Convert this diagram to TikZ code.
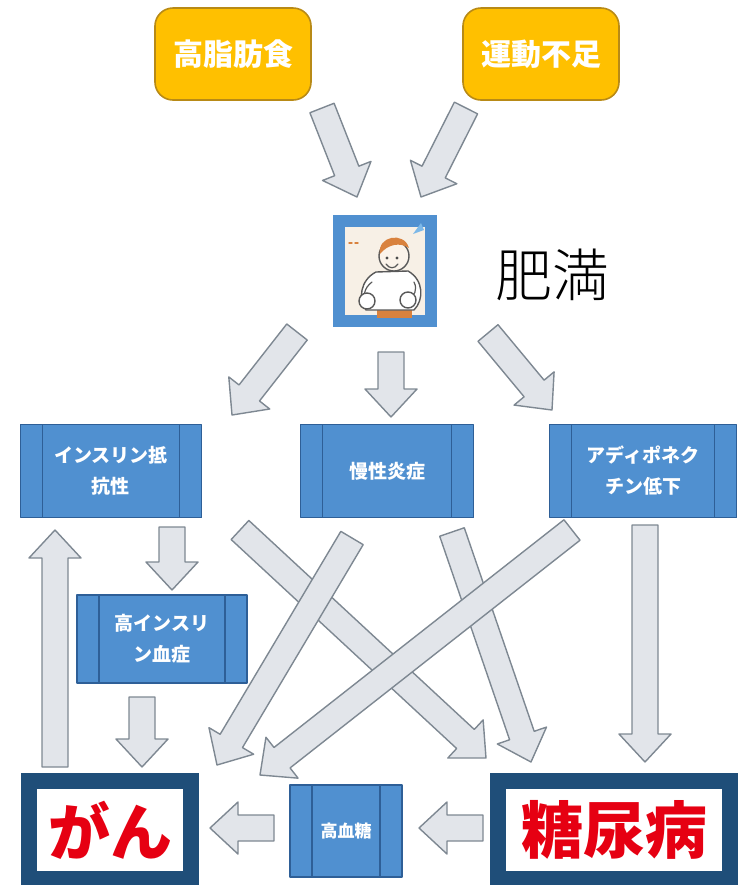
\documentclass[tikz,border=0pt]{standalone}
\usepackage{fontspec}
\newfontfamily\jp{Noto Sans CJK JP}
\newfontfamily\jplight{Noto Sans CJK JP}[UprightFont=* Light]
\usetikzlibrary{calc, positioning}

\definecolor{gold}{HTML}{FFC000}
\definecolor{goldline}{HTML}{B88A16}
\definecolor{procblue}{HTML}{5090D0}
\definecolor{procline}{HTML}{2E5F97}
\definecolor{navy}{HTML}{1F4E79}
\definecolor{arrfill}{HTML}{E2E5EA}
\definecolor{arrline}{HTML}{7E8892}
\definecolor{alarm}{HTML}{E60012}
\definecolor{cream}{HTML}{F7F0E6}
\definecolor{hair}{HTML}{D9823E}
\definecolor{skin}{HTML}{FBF3EA}
\definecolor{sweat}{HTML}{7CB8E8}

\begin{document}
\begin{tikzpicture}[x=0.5pt, y=-0.5pt, line join=round, line cap=round]
	\def\sw{6.5pt}  % half width of the shaft
	\def\hw{13pt}   % half width of the head
	\def\hl{14pt}   % length of the head
	
	\tikzset{
		cause/.style={rounded corners=9pt, draw=goldline, line width=0.8pt, fill=gold,
			minimum width=78pt, minimum height=46pt, text=white, font=\jp\bfseries\fontsize{15}{18}\selectfont},
		proc/.style={draw=procline, fill=procblue, line width=0.6pt, inner sep=0pt, align=center,
			text=white, font=\jp\bfseries\fontsize{9.5}{15.5}\selectfont,
			path picture={
				\draw[procline, line width=0.6pt]
				([xshift=11pt]path picture bounding box.north west) -- ([xshift=11pt]path picture bounding box.south west)
				([xshift=-11pt]path picture bounding box.north east) -- ([xshift=-11pt]path picture bounding box.south east);
		}},
		disease/.style={draw=navy, line width=8pt, line join=miter, fill=white, minimum height=49pt,
			text=alarm, font=\jp\bfseries\fontsize{31}{34}\selectfont},
		bigarr/.style={fill=arrfill, draw=arrline, line width=0.7pt}
	}
	
	\newcommand{\bigarrow}[2]{% tail, tip
		\coordinate (ah) at ($(#2)!\hl!(#1)$);
		\draw[bigarr] ($(#1)!\sw!90:(#2)$) -- ($(ah)!\sw!90:(#2)$) -- ($(ah)!\hw!90:(#2)$) -- (#2)
		-- ($(ah)!\hw!-90:(#2)$) -- ($(ah)!\sw!-90:(#2)$) -- ($(#1)!\sw!-90:(#2)$) -- cycle;
	}
	
	\useasboundingbox (0,0) rectangle (746,885);
	
	% causes
	\node[cause] (diet) at (233,54) {高脂肪食};
	\node[cause] (exercise) at (541,54) {運動不足};
	
	% obesity
	\node[draw=procblue, line width=6pt, line join=miter, fill=cream, minimum width=46pt, minimum height=50pt] (fat) at (385,271) {};
	\node[font=\jplight\fontsize{28.5}{30}\selectfont] (obesity) at (552,275) {肥満};
	
	\begin{scope}[draw=black!65]
		\fill[hair] (377,306) rectangle (412,318);
		\draw[line width=0.7pt, fill=white] (376,272) .. controls (360,280) and (358,300) .. (366,310) -- (414,310)
		.. controls (424,300) and (424,280) .. (408,271) -- cycle;
		\draw[line width=0.6pt] (372,282) .. controls (364,288) and (363,296) .. (366,300);
		\draw[line width=0.6pt] (414,282) .. controls (418,290) and (414,296) .. (409,299);
		\draw[line width=0.7pt, fill=skin] (394,256) circle (7.5pt);
		\fill[hair] (380,254) .. controls (377,236) and (404,231) .. (409,248) .. controls (400,242) and (388,244) .. cycle;
		\fill[black!70] (387,258) circle (0.8pt) (397,258) circle (0.8pt);
		\draw[line width=0.6pt] (386,264) .. controls (389,269) and (395,269) .. (398,264);
		\draw[line width=0.7pt, fill=white] (367,301) circle (4pt) (408,300) circle (4pt);
		\fill[sweat] (413,234) -- (421,223) -- (424,230) -- cycle;
		\draw[hair, line width=0.7pt] (349,243) -- (352,243) (355,243) -- (358,243);
	\end{scope}
	
	% what obesity brings
	\node[proc, minimum width=90.5pt, minimum height=46.5pt] (resist) at (111,471) {インスリン抵\\抗性};
	\node[proc, minimum width=86.5pt, minimum height=46.5pt] (inflam) at (387,471) {慢性炎症};
	\node[proc, minimum width=93.5pt, minimum height=46.5pt] (adipo) at (643,471) {アディポネク\\チン低下};
	\node[proc, minimum width=85pt, minimum height=44pt] (hyperins) at (162,639) {高インスリ\\ン血症};
	\node[proc, minimum width=56pt, minimum height=46pt, font=\jp\bfseries\fontsize{8.5}{10}\selectfont] (glucose) at (346,831) {高血糖};
	
	% diseases
	\node[disease, minimum width=81pt] (cancer) at (110,830) {がん};
	\node[disease, minimum width=116pt] (diabetes) at (614,830) {糖尿病};
	
	% arrow ends
	\coordinate (dietT) at (322,108);     \coordinate (dietH) at (357,197);
	\coordinate (exerT) at (466,108);     \coordinate (exerH) at (421,197);
	\coordinate (fatL) at (297,332);      \coordinate (resistH) at (232,415);
	\coordinate (fatM) at (391,352);      \coordinate (inflamH) at (391,417);
	\coordinate (fatR) at (488,333);      \coordinate (adipoH) at (552,410);
	\coordinate (resistT) at (172,527);   \coordinate (hyperinsH) at (172,590);
	\coordinate (hyperinsT) at (142,697); \coordinate (cancerH1) at (142,767);
	\coordinate (cancerT) at (55,767);    \coordinate (resistH2) at (55,530);
	\coordinate (adipoT) at (645,525);    \coordinate (diabetesH1) at (645,762);
	\coordinate (resistT2) at (240,530);  \coordinate (diabetesH2) at (486,758);
	\coordinate (inflamT1) at (352,538);  \coordinate (cancerH2) at (217,765);
	\coordinate (inflamT2) at (452,532);  \coordinate (diabetesH3) at (531,762);
	\coordinate (adipoT2) at (572,530);   \coordinate (cancerH3) at (260,775);
	\coordinate (glucoseT) at (274,828);  \coordinate (cancerH4) at (210,828);
	\coordinate (diabetesT) at (483,828); \coordinate (glucoseH) at (419,828);
	
	\bigarrow{dietT}{dietH}
	\bigarrow{exerT}{exerH}
	\bigarrow{fatL}{resistH}
	\bigarrow{fatM}{inflamH}
	\bigarrow{fatR}{adipoH}
	\bigarrow{resistT}{hyperinsH}
	\bigarrow{hyperinsT}{cancerH1}
	\bigarrow{cancerT}{resistH2}
	\bigarrow{adipoT}{diabetesH1}
	\bigarrow{resistT2}{diabetesH2}
	\bigarrow{inflamT1}{cancerH2}
	\bigarrow{inflamT2}{diabetesH3}
	\bigarrow{adipoT2}{cancerH3}
	\bigarrow{glucoseT}{cancerH4}
	\bigarrow{diabetesT}{glucoseH}
	
\end{tikzpicture}
\end{document}
